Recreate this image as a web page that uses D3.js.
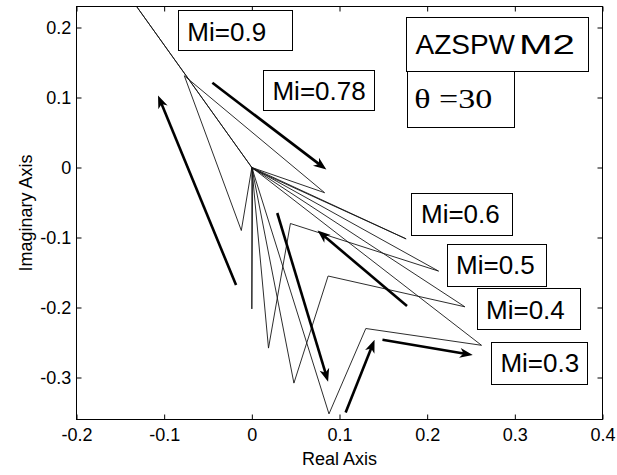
<!DOCTYPE html>
<html>
<head>
<meta charset="utf-8">
<script src="https://cdn.jsdelivr.net/npm/d3@7"></script>
<style>
  body { margin: 0; background: #fff; }
  svg { display: block; }
</style>
</head>
<body>
<svg id="chart" width="617" height="475"></svg>
<script>
// ---- axis ticks ----
const xTicks = [-0.2, -0.1, 0, 0.1, 0.2, 0.3, 0.4];
const xTickLabels = ["-0.2", "-0.1", "0", "0.1", "0.2", "0.3", "0.4"];
const yTicks = [-0.3, -0.2, -0.1, 0, 0.1, 0.2];
const yTickLabels = ["-0.3", "-0.2", "-0.1", "0", "0.1", "0.2"];

// ---- loci of the space vector (real, imaginary) for each modulation index ----
const miLevels = ["0.3", "0.4", "0.5", "0.6", "0.78", "0.9"];
const locusMi03  = [[0, 0], [0.088, -0.352], [0.130, -0.230], [0.262, -0.254], [0, 0]];
const locusMi04  = [[0, 0], [0.048, -0.308], [0.087, -0.155], [0.243, -0.199], [0, 0]];
const locusMi05  = [[0, 0], [0.019, -0.258], [0.044, -0.080], [0.213, -0.148], [0, 0]];
const locusMi06  = [[0, 0], [0, -0.202], [0.001, -0.002], [0.176, -0.102], [0, 0]];
const locusMi078 = [[0, 0], [-0.012, -0.090], [-0.077, 0.131], [0.083, -0.036], [0, 0]];
const locusMi09  = [[0, 0], [-0.16, 0.28], [0, 0]];
const loci = [locusMi03, locusMi04, locusMi05, locusMi06, locusMi078, locusMi09];

// ---- direction arrows (tail -> head) ----
const arrowTails = [[-0.018, -0.168], [-0.045, 0.121], [0.029, -0.065], [0.107, -0.350], [0.149, -0.246], [0.177, -0.198]];
const arrowHeads = [[-0.107, 0.103], [0.085, -0.003], [0.087, -0.306], [0.140, -0.246], [0.252, -0.268], [0.075, -0.090]];

// ---- boxed text notes ----
const noteTexts = ["Mi=0.9", "Mi=0.78", "Mi=0.6", "Mi=0.5", "Mi=0.4", "Mi=0.3"];
const titleText = ["AZSPW", "M2"];
const angleText = "\u03B8 =30";

// layout of the notes: top-left corner in data units, box size in px
const noteLayout = [
  { x: -0.0844, y: 0.2243, w: 114.4, h: 40.0 },
  { x: 0.0127, y: 0.1397, w: 110.7, h: 40.0 },
  { x: 0.1821, y: -0.0364, w: 101.0, h: 42.3 },
  { x: 0.2221, y: -0.1086, w: 99.0, h: 41.7 },
  { x: 0.2563, y: -0.1728, w: 102.6, h: 41.0 },
  { x: 0.2727, y: -0.2490, w: 96.3, h: 41.6 }
];
const titleLayout = { x: 0.1764, y: 0.2148, w: 181.6, h: 54.0 };
const angleLayout = { x: 0.1773, y: 0.1373, w: 107.0, h: 55.5 };

// ---- scales ----
const L = 76.5, R = 602.5, T = 6.5, B = 419.5;
const x = d3.scaleLinear().domain([-0.2, 0.4]).range([L, R]);
const y = d3.scaleLinear().domain([-0.36, 0.23]).range([B, T]);

const svg = d3.select("#chart");
const sans = "'Liberation Sans', Arial, Helvetica, sans-serif";
const serif = "'Liberation Serif', 'Times New Roman', serif";

svg.append("rect").attr("width", 617).attr("height", 475).attr("fill", "#fff");

svg.append("defs").append("clipPath").attr("id", "plotClip")
  .append("rect").attr("x", L).attr("y", T).attr("width", R - L).attr("height", B - T);

const plot = svg.append("g").attr("clip-path", "url(#plotClip)");

// loci
const line = d3.line().x(d => x(d[0])).y(d => y(d[1]));
plot.selectAll("path.locus")
  .data(loci)
  .join("path")
  .attr("class", "locus")
  .attr("d", line)
  .attr("fill", "none")
  .attr("stroke", "#151515")
  .attr("stroke-width", 0.9)
  .attr("stroke-linejoin", "miter");

// arrows
const headLen = 13, headHalf = 5;
arrowTails.forEach((t, i) => {
  const h = arrowHeads[i];
  const x1 = x(t[0]), y1 = y(t[1]), x2 = x(h[0]), y2 = y(h[1]);
  const dx = x2 - x1, dy = y2 - y1, len = Math.hypot(dx, dy);
  const ux = dx / len, uy = dy / len, nx = -uy, ny = ux;
  plot.append("line")
    .attr("x1", x1).attr("y1", y1)
    .attr("x2", x2 - ux * headLen * 0.6).attr("y2", y2 - uy * headLen * 0.6)
    .attr("stroke", "#000").attr("stroke-width", 2.6);
  const bx = x2 - ux * headLen, by = y2 - uy * headLen;
  const notchX = x2 - ux * headLen * 0.72, notchY = y2 - uy * headLen * 0.72;
  plot.append("path")
    .attr("d", `M${x2},${y2}L${bx + nx * headHalf},${by + ny * headHalf}L${notchX},${notchY}L${bx - nx * headHalf},${by - ny * headHalf}Z`)
    .attr("fill", "#000");
});

// axes: inward ticks on all four sides, labels on left and bottom
function styleAxis(g) {
  g.select(".domain").remove();
  g.selectAll(".tick line").attr("stroke", "#000").attr("stroke-width", 1);
  g.selectAll(".tick text").attr("fill", "#000");
  g.attr("font-family", sans).attr("font-size", 18);
}
svg.append("g").attr("transform", `translate(0,${B})`)
  .call(d3.axisBottom(x).tickValues(xTicks)
    .tickFormat(d => xTickLabels[xTicks.indexOf(d)])
    .tickSizeInner(-5).tickSizeOuter(0).tickPadding(8.4))
  .call(styleAxis);
svg.append("g").attr("transform", `translate(0,${T})`)
  .call(d3.axisTop(x).tickValues(xTicks).tickFormat("")
    .tickSizeInner(-5).tickSizeOuter(0))
  .call(styleAxis);
svg.append("g").attr("transform", `translate(${L},0)`)
  .call(d3.axisLeft(y).tickValues(yTicks)
    .tickFormat(d => yTickLabels[yTicks.indexOf(d)])
    .tickSizeInner(-5).tickSizeOuter(0).tickPadding(5.3))
  .call(styleAxis);
svg.append("g").attr("transform", `translate(${R},0)`)
  .call(d3.axisRight(y).tickValues(yTicks).tickFormat("")
    .tickSizeInner(-5).tickSizeOuter(0))
  .call(styleAxis);

svg.append("rect")
  .attr("x", L).attr("y", T).attr("width", R - L).attr("height", B - T)
  .attr("fill", "none").attr("stroke", "#000").attr("stroke-width", 1);

// axis titles
svg.append("text")
  .attr("x", (L + R) / 2).attr("y", 465)
  .attr("text-anchor", "middle")
  .attr("font-family", sans).attr("font-size", 18)
  .text("Real Axis");
svg.append("text")
  .attr("transform", `translate(32,${(T + B) / 2}) rotate(-90)`)
  .attr("text-anchor", "middle")
  .attr("font-family", sans).attr("font-size", 18)
  .text("Imaginary Axis");

// boxed notes
function box(layout) {
  const bx = x(layout.x), by = y(layout.y);
  svg.append("rect")
    .attr("x", Math.round(bx) + 0.5).attr("y", Math.round(by) + 0.5)
    .attr("width", Math.round(layout.w)).attr("height", Math.round(layout.h))
    .attr("fill", "#fff").attr("stroke", "#000").attr("stroke-width", 1);
  return [bx, by];
}

noteTexts.forEach((txt, i) => {
  const [bx, by] = box(noteLayout[i]);
  svg.append("text")
    .attr("x", bx + 9.5).attr("y", by + 30.3)
    .attr("font-family", sans).attr("font-size", 26)
    .text(txt);
});

{
  const [bx, by] = box(titleLayout);
  const t = svg.append("text")
    .attr("x", bx + 9).attr("y", by + 36.6)
    .attr("font-family", sans).attr("font-size", 28);
  t.append("tspan").text(titleText[0]);
  t.append("tspan").attr("x", bx + 112.5)
    .attr("textLength", 56).attr("lengthAdjust", "spacingAndGlyphs")
    .text(titleText[1]);
}

{
  const [bx, by] = box(angleLayout);
  svg.append("text")
    .attr("x", bx + 7).attr("y", by + 37)
    .attr("font-family", serif).attr("font-size", 27)
    .attr("textLength", 78).attr("lengthAdjust", "spacingAndGlyphs")
    .text(angleText);
}
</script>
</body>
</html>
